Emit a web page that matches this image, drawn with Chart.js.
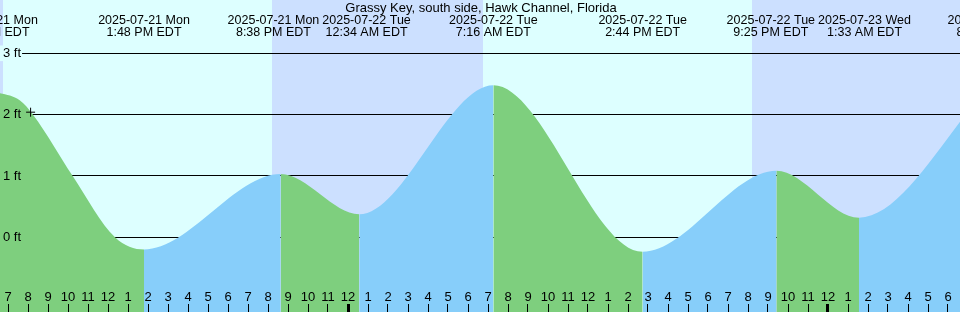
<!DOCTYPE html>
<html>
<head>
<meta charset="utf-8">
<title>Grassy Key tides</title>
<script src="https://cdn.jsdelivr.net/npm/chart.js@4.4.1/dist/chart.umd.min.js"></script>
<style>
  html, body { margin: 0; padding: 0; background: #ddffff; }
  #wrap { position: relative; width: 960px; height: 312px; }
</style>
</head>
<body>
<div id="wrap"><canvas id="tide"></canvas></div>
<script>
/* tide chart — Grassy Key, Hawk Channel */

const stationName = 'Grassy Key, south side, Hawk Channel, Florida';

// all times are hours since 2025-07-21 00:00 EDT
const turnHours  = [6.2, 13.8, 20.633, 24.567, 31.267, 38.733, 45.417, 49.55, 56.3];
const turnFeet   = [2.38, -0.2, 1.03, 0.375, 2.48, -0.235, 1.086, 0.32, 2.55];
const turnDates  = ['2025-07-21 Mon', '2025-07-21 Mon', '2025-07-21 Mon', '2025-07-22 Tue',
                    '2025-07-22 Tue', '2025-07-22 Tue', '2025-07-22 Tue', '2025-07-23 Wed', '2025-07-23 Wed'];
const turnTimes  = ['6:12 AM EDT', '1:48 PM EDT', '8:38 PM EDT', '12:34 AM EDT',
                    '7:16 AM EDT', '2:44 PM EDT', '9:25 PM EDT', '1:33 AM EDT', '8:18 AM EDT'];

// extra readings on the first ebb
const readHours = [7.6, 8.25, 10.235, 12.35];
const readFeet  = [2.23, 2.0, 1.0, 0.0];

const sunriseHours = [6.75, 30.75];
const sunsetHours  = [20.2, 44.2];

const nowHour = 8.13;
const nowFeet = 2.04;

const depthTicks = [0, 1, 2, 3];
const firstTickHour = 7, lastTickHour = 54;

const X_MIN = 6.6, X_MAX = 54.6;
const Y_MIN = -1.218, Y_MAX = 3.869;

const DAY = '#ddffff', NIGHT = '#cce0ff';
const RISE = '#87cefa', FALL = '#7ecf7e';
const FONT = '"Liberation Sans", Arial, sans-serif';
const LABEL_GAP = 3;

const tidePoints = turnHours.map((h, i) => ({ x: h, y: turnFeet[i] }))
  .concat(readHours.map((h, i) => ({ x: h, y: readFeet[i] })))
  .sort((a, b) => a.x - b.x);

const hourTicks = [];
for (let h = firstTickHour; h <= lastTickHour; h++) hourTicks.push(h);

const decor = {
  id: 'decor',
  beforeDraw(chart) {
    const { ctx, chartArea: a, scales: { x } } = chart;
    ctx.save();
    ctx.fillStyle = DAY;
    ctx.fillRect(a.left, a.top, a.right - a.left, a.bottom - a.top);
    ctx.fillStyle = NIGHT;
    const nights = [[X_MIN, sunriseHours[0]]];
    sunsetHours.forEach((s, i) => nights.push([s, sunriseHours[i + 1] ?? X_MAX]));
    nights.forEach(([s, e]) => {
      const x0 = x.getPixelForValue(s), x1 = x.getPixelForValue(e);
      ctx.fillRect(x0, a.top, x1 - x0, a.bottom - a.top);
    });
    ctx.restore();
  },
  afterDraw(chart) {
    const { ctx, chartArea: a, scales: { x } } = chart;
    ctx.save();
    ctx.fillStyle = '#000';
    ctx.textAlign = 'center';
    ctx.textBaseline = 'alphabetic';
    ctx.font = '13px ' + FONT;
    ctx.fillText(stationName, (a.left + a.right) / 2 + 1, 12);

    // high/low labels, nudged apart where two would collide
    ctx.font = '12.5px ' + FONT;
    const boxes = turnHours.map((h, i) => ({
      c: x.getPixelForValue(h),
      w: Math.max(ctx.measureText(turnDates[i]).width, ctx.measureText(turnTimes[i]).width)
    }));
    for (let i = 1; i < boxes.length; i++) {
      const p = boxes[i - 1], q = boxes[i];
      const need = p.w / 2 + q.w / 2 + LABEL_GAP - (q.c - p.c);
      if (need > 0) { p.c -= need / 2; q.c += need / 2; }
    }
    boxes.forEach((b, i) => {
      ctx.fillText(turnDates[i], b.c, 24);
      ctx.fillText(turnTimes[i], b.c, 36);
    });
    ctx.restore();
  }
};

new Chart(document.getElementById('tide'), {
  type: 'line',
  data: {
    datasets: [{
      label: 'now',
      data: [{ x: nowHour, y: nowFeet }],
      showLine: false,
      pointStyle: 'cross',
      pointRadius: 4.5,
      pointBorderColor: '#000',
      pointBorderWidth: 1,
      fill: false
    }, {
      label: 'tide',
      data: tidePoints,
      cubicInterpolationMode: 'monotone',
      borderWidth: 0,
      borderColor: 'rgba(0,0,0,0)',
      backgroundColor: FALL,
      pointRadius: 0,
      fill: 'start',
      segment: {
        backgroundColor: c => c.p1.parsed.y > c.p0.parsed.y ? RISE : FALL
      }
    }]
  },
  options: {
    responsive: true,
    maintainAspectRatio: false,
    animation: false,
    layout: { padding: 0, autoPadding: false },
    plugins: { legend: { display: false }, tooltip: { enabled: false } },
    scales: {
      x: {
        type: 'linear',
        position: 'bottom',
        min: X_MIN, max: X_MAX,
        afterBuildTicks: s => { s.ticks = hourTicks.map(v => ({ value: v })); },
        afterFit: s => { s.height = 0; s.paddingLeft = 0; s.paddingRight = 0; },
        border: { display: false },
        grid: {
          z: 1,
          drawOnChartArea: false,
          drawTicks: true,
          tickLength: -8,
          tickColor: '#000',
          lineWidth: 1,
          tickWidth: c => (c.tick && c.tick.value % 24 === 0) ? 3 : 1
        },
        ticks: {
          z: 1,
          mirror: true,
          autoSkip: false,
          maxRotation: 0,
          minRotation: 0,
          padding: 7,
          color: '#000',
          font: { family: FONT, size: 13 },
          callback: v => String((v % 12) || 12)
        }
      },
      y: {
        type: 'linear',
        position: 'left',
        min: Y_MIN, max: Y_MAX,
        afterBuildTicks: s => { s.ticks = depthTicks.map(v => ({ value: v })); },
        afterFit: s => { s.width = 0; s.paddingTop = 0; s.paddingBottom = 0; },
        border: { display: false },
        grid: { color: '#000', lineWidth: 1, drawTicks: false },
        ticks: {
          z: 1,
          mirror: true,
          padding: 3,
          color: '#000',
          font: { family: FONT, size: 13 },
          callback: v => v + ' ft',
          // sky behind the top label hides the guide line there
          showLabelBackdrop: true,
          backdropPadding: { top: 0, bottom: 0, left: 3, right: 1 },
          backdropColor: c => (c.tick && c.tick.value === depthTicks[depthTicks.length - 1]) ? DAY : 'rgba(0,0,0,0)'
        }
      }
    }
  },
  plugins: [decor]
});
</script>
</body>
</html>
